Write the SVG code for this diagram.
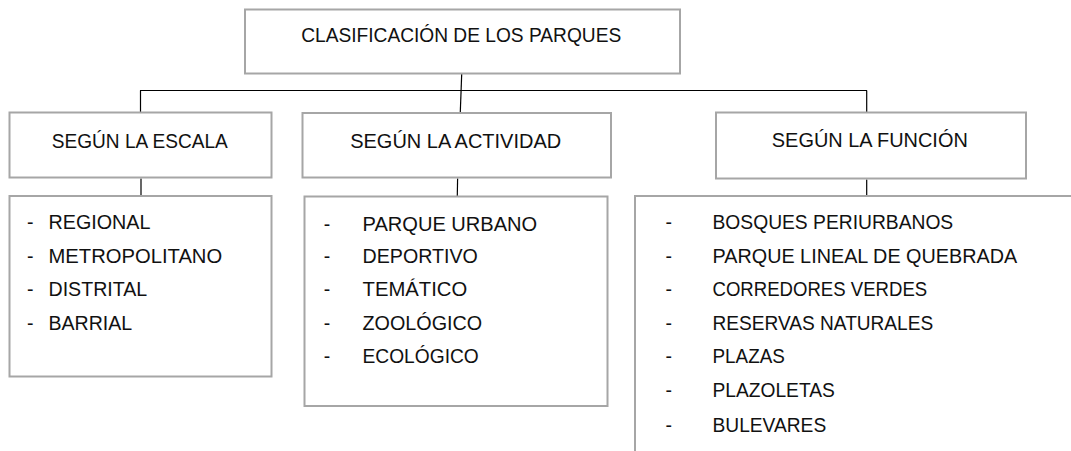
<svg xmlns="http://www.w3.org/2000/svg" width="1071" height="451" viewBox="0 0 1071 451">
<style>
.box{fill:#fff;stroke:#a6a6a6;stroke-width:2}
.t{font-family:"Liberation Sans",Arial,sans-serif;font-size:19.5px;fill:#111}
.c{stroke:#000;stroke-width:1.2;fill:none}
</style>
<rect width="1071" height="451" fill="#fff"/>
<g id="connectors">
<line class="c" x1="461.7" y1="74" x2="460.3" y2="112"/>
<line class="c" x1="140" y1="90.5" x2="867" y2="90.5"/>
<line class="c" x1="140.5" y1="90.5" x2="140.5" y2="112"/>
<line class="c" x1="866.7" y1="90.5" x2="866.7" y2="112"/>
<line class="c" x1="141" y1="178.5" x2="141" y2="195.5"/>
<line class="c" x1="457.6" y1="178.5" x2="457.3" y2="196"/>
<line class="c" x1="866.7" y1="179.5" x2="866.7" y2="195.5"/>
</g>
<g id="root">
<rect class="box" x="245" y="9.5" width="435" height="64"/>
<text class="t" x="301.2" y="41.7" textLength="320" lengthAdjust="spacingAndGlyphs">CLASIFICACIÓN DE LOS PARQUES</text>
</g>
<g id="escala">
<rect class="box" x="9.5" y="112.5" width="262" height="65"/>
<text class="t" x="51.8" y="148.3" textLength="176" lengthAdjust="spacingAndGlyphs">SEGÚN LA ESCALA</text>
</g>
<g id="escala-list">
<rect class="box" x="9.5" y="196" width="262" height="180.5"/>
<text class="t" x="27" y="228.5">-</text>
<text class="t" x="48.5" y="228.5" textLength="102" lengthAdjust="spacingAndGlyphs">REGIONAL</text>
<text class="t" x="27" y="262.5">-</text>
<text class="t" x="48.5" y="262.5" textLength="173.7" lengthAdjust="spacingAndGlyphs">METROPOLITANO</text>
<text class="t" x="27" y="296">-</text>
<text class="t" x="48.5" y="296" textLength="98.7" lengthAdjust="spacingAndGlyphs">DISTRITAL</text>
<text class="t" x="27" y="329.5">-</text>
<text class="t" x="48.5" y="329.5" textLength="83.7" lengthAdjust="spacingAndGlyphs">BARRIAL</text>
</g>
<g id="actividad">
<rect class="box" x="302.5" y="113" width="308.5" height="64.5"/>
<text class="t" x="350.2" y="147.7" textLength="211" lengthAdjust="spacingAndGlyphs">SEGÚN LA ACTIVIDAD</text>
</g>
<g id="actividad-list">
<rect class="box" x="304.5" y="196.5" width="303" height="209.5"/>
<text class="t" x="323.7" y="230.7">-</text>
<text class="t" x="362.5" y="230.7" textLength="174.7" lengthAdjust="spacingAndGlyphs">PARQUE URBANO</text>
<text class="t" x="323.7" y="263.3">-</text>
<text class="t" x="362.5" y="263.3" textLength="115.3" lengthAdjust="spacingAndGlyphs">DEPORTIVO</text>
<text class="t" x="323.7" y="296">-</text>
<text class="t" x="362.5" y="296" textLength="104.7" lengthAdjust="spacingAndGlyphs">TEMÁTICO</text>
<text class="t" x="323.7" y="330">-</text>
<text class="t" x="362.5" y="330" textLength="119.7" lengthAdjust="spacingAndGlyphs">ZOOLÓGICO</text>
<text class="t" x="323.7" y="363.3">-</text>
<text class="t" x="362.5" y="363.3" textLength="116.3" lengthAdjust="spacingAndGlyphs">ECOLÓGICO</text>
</g>
<g id="funcion">
<rect class="box" x="716" y="112.5" width="310" height="66"/>
<text class="t" x="771.8" y="146.7" textLength="196" lengthAdjust="spacingAndGlyphs">SEGÚN LA FUNCIÓN</text>
</g>
<g id="funcion-list">
<rect class="box" x="635" y="196" width="460" height="280"/>
<text class="t" x="665.4" y="229">-</text>
<text class="t" x="712.5" y="229" textLength="240.7" lengthAdjust="spacingAndGlyphs">BOSQUES PERIURBANOS</text>
<text class="t" x="665.4" y="263.3">-</text>
<text class="t" x="712.5" y="263.3" textLength="304.7" lengthAdjust="spacingAndGlyphs">PARQUE LINEAL DE QUEBRADA</text>
<text class="t" x="665.4" y="296">-</text>
<text class="t" x="712.5" y="296" textLength="214.7" lengthAdjust="spacingAndGlyphs">CORREDORES VERDES</text>
<text class="t" x="665.4" y="330">-</text>
<text class="t" x="712.5" y="330" textLength="220.7" lengthAdjust="spacingAndGlyphs">RESERVAS NATURALES</text>
<text class="t" x="665.4" y="363.3">-</text>
<text class="t" x="712.5" y="363.3" textLength="72.3" lengthAdjust="spacingAndGlyphs">PLAZAS</text>
<text class="t" x="665.4" y="397.3">-</text>
<text class="t" x="712.5" y="397.3" textLength="122.3" lengthAdjust="spacingAndGlyphs">PLAZOLETAS</text>
<text class="t" x="665.4" y="431.7">-</text>
<text class="t" x="712.5" y="431.7" textLength="113.7" lengthAdjust="spacingAndGlyphs">BULEVARES</text>
</g>
</svg>
